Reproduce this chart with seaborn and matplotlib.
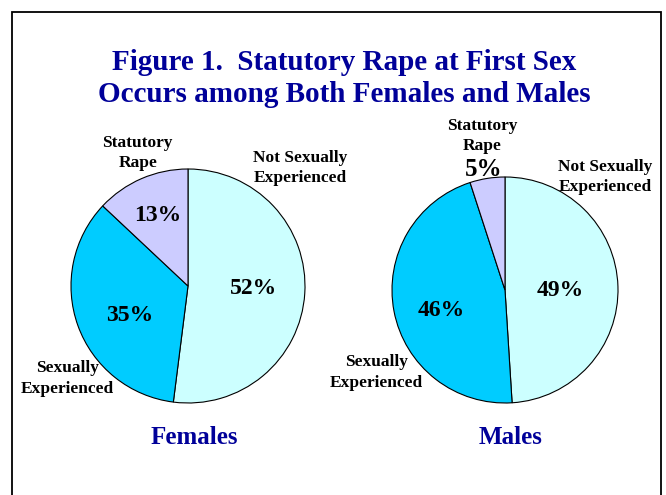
import matplotlib
matplotlib.use("Agg")
import matplotlib.pyplot as plt
import seaborn as sns
from matplotlib.patches import Rectangle

categories = ["Not Sexually\nExperienced", "Sexually\nExperienced", "Statutory\nRape"]
females = [52, 35, 13]
males = [49, 46, 5]
pct_labels_f = ["52%", "35%", "13%"]
pct_labels_m = ["49%", "46%", "5%"]
colors = ["#CCFFFF", "#00CCFF", "#CCCCFF"]

sns.set_theme(style="white")
plt.rcParams["font.family"] = ["Liberation Serif", "DejaVu Serif"]
plt.rcParams["font.weight"] = "bold"

navy = "#000099"
fig = plt.figure(figsize=(6.66, 4.95), dpi=100)
W, H = 666, 495

fig.patches.append(Rectangle((12 / W, -0.1), 649 / W, (495 - 12) / H + 0.1,
                             transform=fig.transFigure, fill=False,
                             edgecolor="black", linewidth=1.3))

fig.text(344 / W, 1 - 62 / H, "Figure 1.  Statutory Rape at First Sex",
         ha="center", va="center", fontsize=21, color=navy, fontweight="bold")
fig.text(344 / W, 1 - 95 / H, "Occurs among Both Females and Males",
         ha="center", va="center", fontsize=21, color=navy, fontweight="bold")


def pie_axes(cx, cy, r):
    return fig.add_axes([(cx - r) / W, (H - cy - r) / H, 2 * r / W, 2 * r / H])


def draw_pie(ax, values):
    ax.pie(values, colors=colors, startangle=90, counterclock=False,
           wedgeprops=dict(edgecolor="black", linewidth=0.8))
    ax.set_xlim(-1, 1)
    ax.set_ylim(-1, 1)
    ax.set_aspect("equal")
    ax.axis("off")


lab = dict(ha="center", va="center", fontsize=12.5, fontweight="bold",
           color="black", linespacing=1.35)
pct = dict(ha="center", va="center", fontsize=17, fontweight="bold", color="black")

# Females
axf = pie_axes(188, 286, 117)
draw_pie(axf, females)
axf.text(0.96, 1.01, categories[0], **lab)
axf.text(-1.03, -0.79, categories[1], **lab)
axf.text(-0.43, 1.14, categories[2], **lab)
axf.text(0.56, -0.02, pct_labels_f[0], **pct)
axf.text(-0.50, -0.25, pct_labels_f[1], **pct)
axf.text(-0.26, 0.60, pct_labels_f[2], **pct)

# Males
axm = pie_axes(505, 290, 113)
draw_pie(axm, males)
axm.text(0.89, 1.0, categories[0], **lab)
axm.text(-1.14, -0.73, categories[1], **lab)
axm.text(-0.20, 1.36, categories[2], **lab)
axm.text(0.49, 0.0, pct_labels_m[0], **pct)
axm.text(-0.56, -0.18, pct_labels_m[1], **pct)
axm.text(-0.19, 1.07, pct_labels_m[2], fontsize=18, **{k: v for k, v in pct.items() if k != "fontsize"})

fig.text(194 / W, 1 - 438 / H, "Females", ha="center", va="center",
         fontsize=18, color=navy, fontweight="bold")
fig.text(511 / W, 1 - 438 / H, "Males", ha="center", va="center",
         fontsize=18, color=navy, fontweight="bold")

fig.savefig("out.png", dpi=100)
